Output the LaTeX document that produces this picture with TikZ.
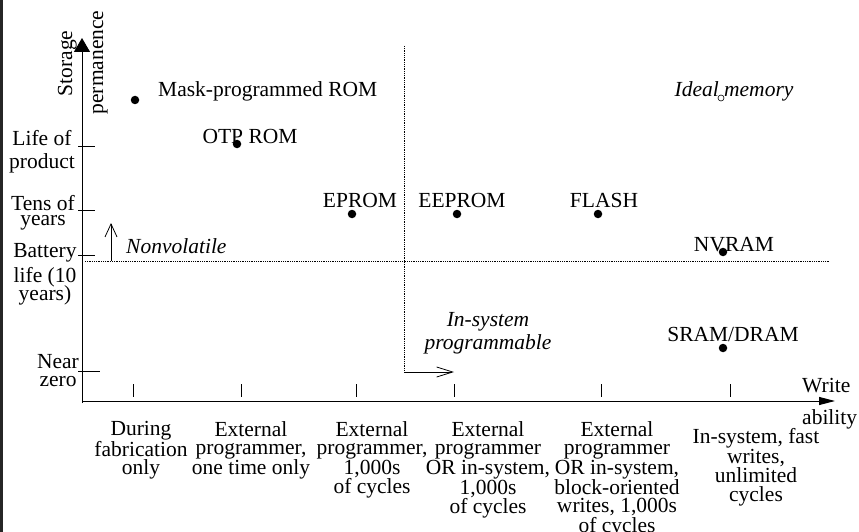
\documentclass[tikz,border=0pt]{standalone}
\usepackage{fontspec}
\setmainfont{Liberation Serif}
\usetikzlibrary{arrows.meta}
\begin{document}
\begin{tikzpicture}[x=1pt,y=-1pt,
  lbl/.style={font=\fontsize{21.5}{18.2}\selectfont, inner sep=0pt},
  txt/.style={lbl, align=center},
  itl/.style={lbl, font=\fontsize{21.5}{18.2}\selectfont\itshape},
  dot/.style={circle, fill=black, inner sep=0pt, minimum size=8.5pt},
  axisline/.style={line width=1pt},
  tickmark/.style={line width=0.9pt},
  guide/.style={line width=0.8pt, dash pattern=on 0.9pt off 0.9pt},
  thinarrow/.style={line width=0.8pt},
]
\useasboundingbox (0,0) rectangle (859,532);
\fill[black!85] (0,0) rectangle (2.5,532);

% axes
\coordinate (ybot) at (82,403);
\coordinate (ytop) at (82,38);
\coordinate (org) at (82,401);
\coordinate (xend) at (835,401);
\draw[axisline, -{Triangle[length=14pt,width=16pt]}] (ybot) -- (ytop);
\draw[axisline, -{Triangle[length=16pt,width=8pt]}] (org) -- (xend);

% axis titles
\node[lbl, rotate=90, anchor=base] (ytitleA) at (72,63.5) {Storage};
\node[lbl, rotate=90, anchor=base] (ytitleB) at (103,62.5) {permanence};
\node[lbl, anchor=base west] (xtitleA) at (802,392) {Write};
\node[lbl, anchor=base west] (xtitleB) at (802,424) {ability};

% vertical-axis ticks
\foreach \yy/\xe in {146/95, 210/95, 255/95, 371/100}
  \draw[tickmark] (78,\yy) -- (\xe,\yy);

% horizontal-axis ticks
\foreach \xx in {133, 241, 356, 454, 601, 730}
  \draw[tickmark] (\xx,384) -- (\xx,397);

% vertical-axis labels
\node[txt, anchor=north east] (ylife) at (75,130) {Life of\\[4.8pt]product};
\node[txt, anchor=north east] (ytens) at (75,195) {Tens of\\[-3.2pt]years};
\node[txt, anchor=north] (ybatt) at (45,243) {Battery\\[4.8pt]life (10\\[-3.2pt]years)};
\node[txt, anchor=north] (ynear) at (58,354) {Near\\zero};

% horizontal-axis labels
\node[txt, anchor=north] (c1) at (141,421) {During\\fabrication\\only};
\node[txt, anchor=north] (c2) at (251,421) {External\\programmer,\\one time only};
\node[txt, anchor=north] (c3) at (372,421) {External\\programmer,\\1,000s\\of cycles};
\node[txt, anchor=north] (c4) at (488,421) {External\\programmer\\OR in-system,\\1,000s\\of cycles};
\node[txt, anchor=north] (c5) at (617,421) {External\\programmer\\OR in-system,\\block-oriented\\writes, 1,000s\\of cycles};
\node[txt, anchor=north] (c6) at (756,428.5) {In-system, fast\\writes,\\unlimited\\cycles};

% nonvolatile boundary
\coordinate (nvL) at (85,261);
\coordinate (nvR) at (829,261);
\draw[guide] (nvL) -- (nvR);
\coordinate (nvA) at (111,261);
\coordinate (nvB) at (111,223);
\draw[thinarrow, -{Straight Barb[length=13pt,width=12pt]}] (nvA) -- (nvB);
\node[itl, anchor=base west] (nonvol) at (126,253) {Nonvolatile};

% in-system programmable boundary
\coordinate (isTop) at (404,46);
\coordinate (isCorner) at (404,372);
\coordinate (isEnd) at (454,372);
\draw[guide] (isTop) -- (isCorner);
\draw[thinarrow, -{Straight Barb[length=16pt,width=10pt]}] (isCorner) -- (isEnd);
\node[itl, align=center, anchor=north] (insys) at (488,312) {In-system\\[2.8pt]programmable};

% memory types
\node[dot] (mask) at (135,100) {};
\node[lbl, anchor=base west] (maskL) at (158,97) {Mask-programmed ROM};
\node[dot] (otp) at (237,144) {};
\node[lbl, anchor=base] (otpL) at (250,143) {OTP ROM};
\node[dot] (eprom) at (352,214) {};
\node[lbl, anchor=base] (epromL) at (360,207) {EPROM};
\node[dot] (eeprom) at (457,214) {};
\node[lbl, anchor=base] (eepromL) at (462,207) {EEPROM};
\node[dot] (flash) at (598,214) {};
\node[lbl, anchor=base] (flashL) at (604,207) {FLASH};
\node[dot] (nvram) at (723,252) {};
\node[lbl, anchor=base] (nvramL) at (734,251) {NVRAM};
\node[dot] (sram) at (723,348) {};
\node[lbl, anchor=base] (sramL) at (733,341) {SRAM/DRAM};
\node[itl, anchor=base] (idealL) at (734,97) {Ideal memory};
\node[circle, draw, line width=0.6pt, inner sep=0pt, minimum size=6pt] (ideal) at (721,98) {};
\end{tikzpicture}
\end{document}
